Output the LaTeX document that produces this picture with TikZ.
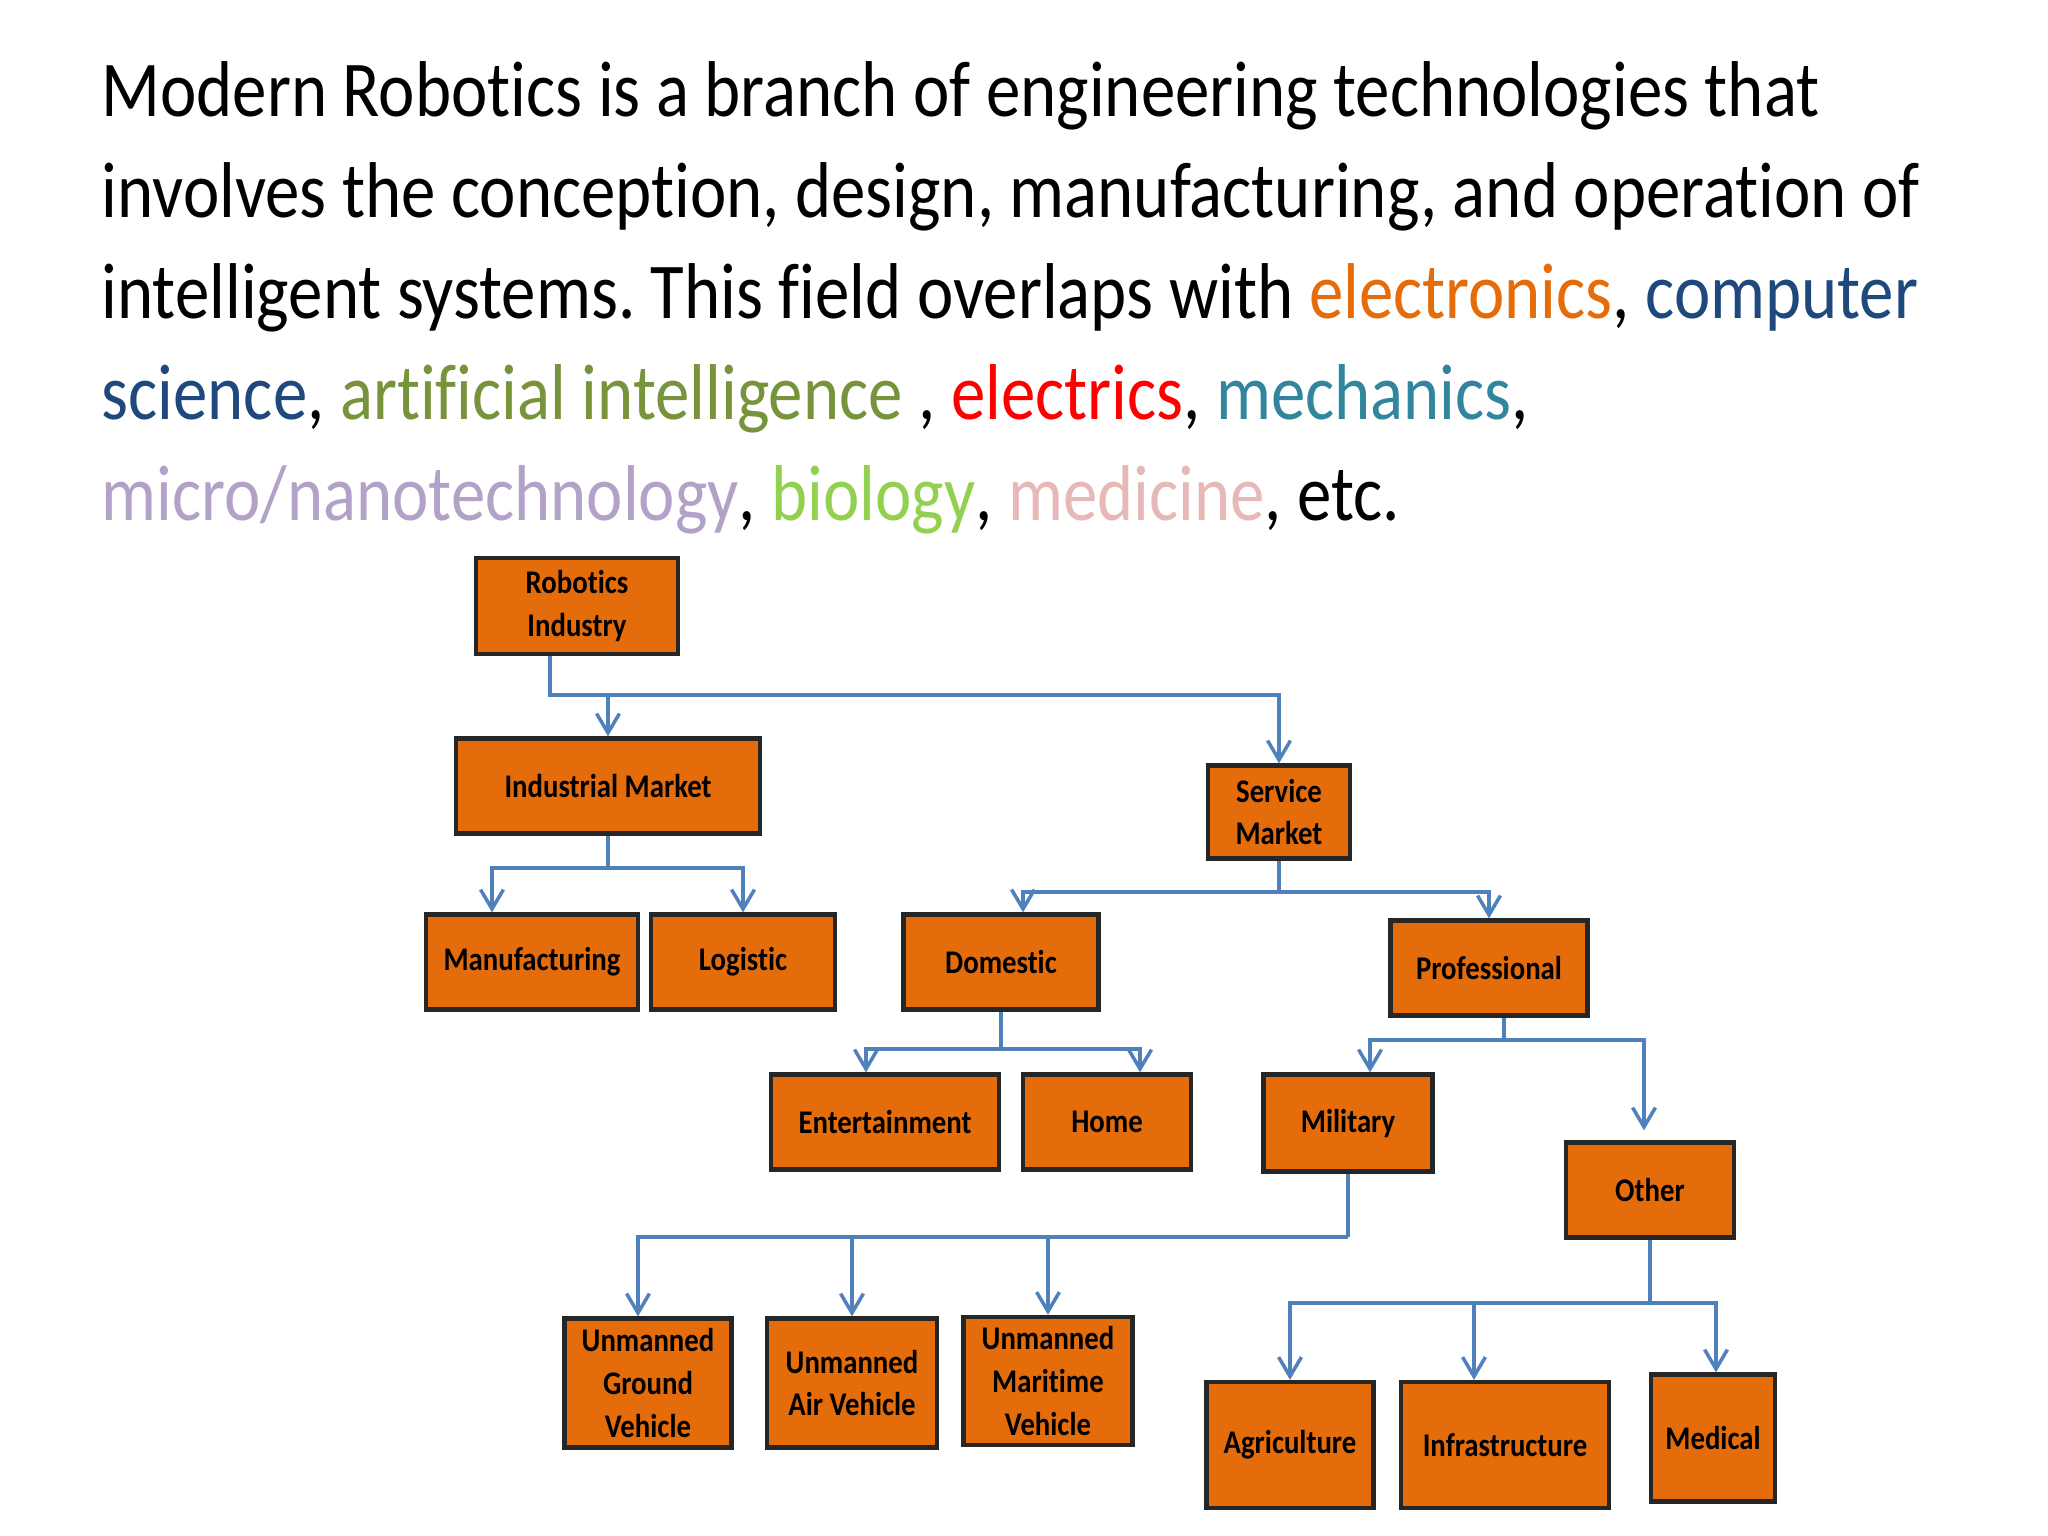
\documentclass[tikz,border=0pt]{standalone}
\usepackage{fontspec}
\setmainfont{Carlito}[FakeStretch=0.87,Ligatures=NoCommon]
\usepackage{xcolor}
\usepackage{tikz}
\usetikzlibrary{arrows.meta}
\frenchspacing

\definecolor{boxorange}{HTML}{E46C0A}
\definecolor{linkblue}{HTML}{4F81BD}
\definecolor{elecorange}{HTML}{E46C0A}
\definecolor{csnavy}{HTML}{1F497D}
\definecolor{aiolive}{HTML}{77933C}
\definecolor{elred}{HTML}{FF0000}
\definecolor{mechteal}{HTML}{31859C}
\definecolor{nanolilac}{HTML}{B3A2C7}
\definecolor{biogreen}{HTML}{92D050}
\definecolor{medpink}{HTML}{E6B9B8}

\begin{document}
\begin{tikzpicture}[x=0.01cm,y=-0.01cm,
  box/.style={draw=black!85,line width=1.2pt,fill=boxorange,align=center,inner sep=1pt,
    font=\fontsize{9.4}{12.2}\selectfont\bfseries},
  link/.style={draw=linkblue,line width=1pt},
  conn/.style={link,-{Straight Barb[length=5.5pt,width=6.5pt]}},
  intro/.style={anchor=base west,inner sep=0pt,font=\fontsize{22.5}{28}\selectfont}]
\useasboundingbox (0,0) rectangle (2048,1536);

\node[intro] (line1) at (101,116) {Modern Robotics is a branch of engineering technologies that};
\node[intro] (line2) at (101,217) {involves the conception, design, manufacturing, and operation of};
\node[intro] (line3) at (101,318) {intelligent systems. This field overlaps with \textcolor{elecorange}{electronics}, \textcolor{csnavy}{computer}};
\node[intro] (line4) at (101,419) {\textcolor{csnavy}{science}, \textcolor{aiolive}{artificial intelligence} , \textcolor{elred}{electrics}, \textcolor{mechteal}{mechanics},};
\node[intro] (line5) at (101,520) {\textcolor{nanolilac}{micro/nanotechnology}, \textcolor{biogreen}{biology}, \textcolor{medpink}{medicine}, etc.};

\node[box,minimum width=2.02cm,minimum height=0.96cm] (rob) at (577,606) {Robotics\\Industry};
\node[box,minimum width=3.04cm,minimum height=0.95cm] (ind) at (608,786) {Industrial Market};
\node[box,minimum width=1.42cm,minimum height=0.93cm] (serv) at (1279,812) {Service\\Market};
\node[box,minimum width=2.12cm,minimum height=0.95cm] (manu) at (532,962) {Manufacturing};
\node[box,minimum width=1.84cm,minimum height=0.95cm] (logi) at (743,962) {Logistic};
\node[box,minimum width=1.95cm,minimum height=0.95cm] (dom) at (1001,962) {Domestic};
\node[box,minimum width=1.97cm,minimum height=0.95cm] (prof) at (1489,968) {Professional};
\node[box,minimum width=2.28cm,minimum height=0.95cm] (ent) at (885,1122) {Entertainment};
\node[box,minimum width=1.68cm,minimum height=0.95cm] (home) at (1107,1122) {Home};
\node[box,minimum width=1.69cm,minimum height=0.97cm] (mil) at (1348,1123) {Military};
\node[box,minimum width=1.68cm,minimum height=0.95cm] (other) at (1650,1190) {Other};
\node[box,minimum width=1.67cm,minimum height=1.29cm] (ugv) at (648,1383) {Unmanned\\Ground\\Vehicle};
\node[box,minimum width=1.70cm,minimum height=1.29cm] (uav) at (852,1383) {Unmanned\\Air Vehicle};
\node[box,minimum width=1.69cm,minimum height=1.28cm] (umv) at (1048,1381) {Unmanned\\Maritime\\Vehicle};
\node[box,minimum width=1.67cm,minimum height=1.26cm] (agri) at (1290,1445) {Agriculture};
\node[box,minimum width=2.08cm,minimum height=1.26cm] (infra) at (1505,1445) {Infrastructure};
\node[box,minimum width=1.24cm,minimum height=1.27cm] (med) at (1713,1438) {Medical};

\coordinate (busA) at (0,695);
\coordinate (busB) at (0,868);
\coordinate (busC) at (0,892);
\coordinate (busD) at (0,1040);
\coordinate (busE) at (0,1049);
\coordinate (busF) at (0,1237);
\coordinate (busG) at (0,1303);
\coordinate (robout) at ([xshift=-0.27cm]rob.south);
\coordinate (profout) at ([xshift=0.15cm]prof.south);
\coordinate (infrain) at ([xshift=-0.31cm]infra.north);

\draw[conn] (robout) |- (busA -| serv.north) -- (serv.north);
\draw[conn] (busA -| ind.north) -- (ind.north);

\draw[link] (ind.south) -- (busB -| ind.south);
\draw[conn] (busB -| ind.south) -| ([xshift=-0.4cm]manu.north);
\draw[conn] (busB -| ind.south) -| (logi.north);

\draw[link] (serv.south) -- (busC -| serv.south);
\draw[conn] (busC -| serv.south) -| ([xshift=0.22cm]dom.north);
\draw[conn] (busC -| serv.south) -| (prof.north);

\draw[link] (profout) -- (busD -| profout);
\draw[conn] (busD -| profout) -| ([xshift=0.22cm]mil.north);
\draw[conn,shorten >=0.1cm] (busD -| profout) -| ([xshift=-0.06cm]other.north);

\draw[link] (dom.south) -- (busE -| dom.south);
\draw[conn] (busE -| dom.south) -| ([xshift=-0.19cm]ent.north);
\draw[conn] (busE -| dom.south) -| ([xshift=0.33cm]home.north);

\draw[link] (mil.south) -- (busF -| mil.south);
\draw[conn] (busF -| mil.south) -| ([xshift=-0.1cm]ugv.north);
\draw[conn] (busF -| uav.north) -- (uav.north);
\draw[conn] (busF -| umv.north) -- (umv.north);

\draw[link] (other.south) -- (busG -| other.south);
\draw[conn] (busG -| other.south) -| (agri.north);
\draw[conn] (busG -| other.south) -| ([xshift=0.03cm]med.north);
\draw[conn] (busG -| infrain) -- (infrain);
\end{tikzpicture}
\end{document}
